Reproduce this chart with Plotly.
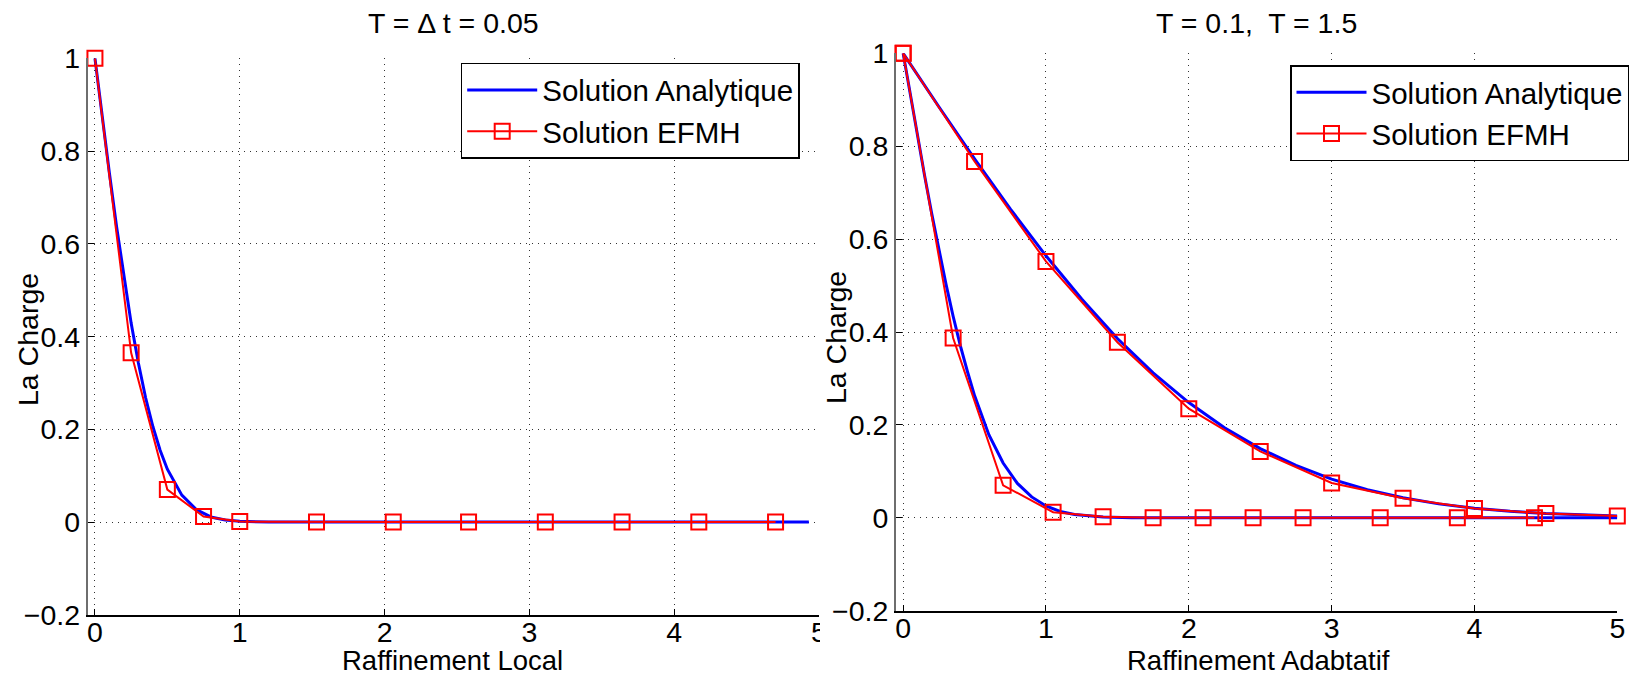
import plotly.graph_objects as go

# ---------------- data ----------------
# Left panel : T = Δt = 0.05, local refinement
left_x_analytic = [0, 0.05, 0.1, 0.15, 0.2, 0.25, 0.3, 0.35, 0.4, 0.45, 0.5, 0.6, 0.7, 0.8,
                   0.9, 1.0, 1.2, 1.5, 2.0, 3.0, 4.0, 4.93]
left_y_analytic = [1, 0.874, 0.752, 0.636, 0.527, 0.429, 0.343, 0.268, 0.206, 0.155, 0.114,
                   0.058, 0.027, 0.011, 0.0045, 0.0016, 0.0001, 0, 0, 0, 0, 0]
left_x_efmh = [0, 0.25, 0.5, 0.75, 1.0, 1.53, 2.06, 2.58, 3.11, 3.64, 4.17, 4.70]
left_y_efmh = [1, 0.365, 0.07, 0.012, 0.001, 0, 0, 0, 0, 0, 0, 0]

# Right panel : T = 0.1 (fast) and T = 1.5 (slow), adaptive refinement
fast_x_analytic = [0, 0.05, 0.1, 0.15, 0.2, 0.25, 0.3, 0.35, 0.4, 0.45, 0.5, 0.6, 0.7, 0.8,
                   0.9, 1.0, 1.1, 1.2, 1.4, 1.6, 2.0, 3.0, 4.0, 5.0]
fast_y_analytic = [1, 0.911, 0.823, 0.737, 0.655, 0.576, 0.503, 0.434, 0.371, 0.315, 0.263,
                   0.179, 0.118, 0.074, 0.045, 0.0254, 0.0136, 0.0069, 0.0017, 0.0003, 0, 0, 0, 0]
fast_x_efmh = [0, 0.35, 0.70, 1.05, 1.40, 1.75, 2.10, 2.45, 2.80, 3.34, 3.88, 4.42]
fast_y_efmh = [1, 0.387, 0.070, 0.012, 0.002, 0, 0, 0, 0, 0, 0, 0]

slow_x_analytic = [0, 0.25, 0.5, 0.75, 1.0, 1.25, 1.5, 1.75, 2.0, 2.25, 2.5, 2.75, 3.0, 3.25,
                   3.5, 3.75, 4.0, 4.25, 4.5, 4.75, 5.0]
slow_y_analytic = [1, 0.885, 0.773, 0.665, 0.564, 0.471, 0.386, 0.312, 0.248, 0.194, 0.149,
                   0.113, 0.0833, 0.0604, 0.043, 0.030, 0.0206, 0.0139, 0.0092, 0.006, 0.0039]
slow_x_efmh = [0, 0.5, 1.0, 1.5, 2.0, 2.5, 3.0, 3.5, 4.0, 4.5, 5.0]
slow_y_efmh = [1, 0.767, 0.552, 0.378, 0.235, 0.143, 0.075, 0.042, 0.020, 0.009, 0.004]

x_ticks = [0, 1, 2, 3, 4, 5]
x_tick_labels = ["0", "1", "2", "3", "4", "5"]
y_ticks = [-0.2, 0, 0.2, 0.4, 0.6, 0.8, 1.0]
y_tick_labels = ["\u22120.2", "0", "0.2", "0.4", "0.6", "0.8", "1"]

titles = ["T = \u0394 t = 0.05", "T = 0.1,  T = 1.5"]
x_titles = ["Raffinement Local", "Raffinement Adabtatif"]
y_title = "La Charge"
legend_names = ["Solution Analytique", "Solution EFMH"]

# ---------------- styling ----------------
W, H = 1633, 677
FONT = "Liberation Sans, Arial, Helvetica, sans-serif"
FS = 28.5
FS_XT = 27.5
FS_LEG = 29.5
BLUE = "#0000FF"
RED = "#FF0000"

def px_x(p):
    return p / W

def px_y(p):
    return 1 - p / H

fig = go.Figure()

def analytic(x, y, xa, ya, show, legend):
    fig.add_trace(go.Scatter(x=x, y=y, mode="lines", name=legend_names[0],
                             line=dict(color=BLUE, width=3), xaxis=xa, yaxis=ya,
                             showlegend=show, legend=legend, cliponaxis=False))

def efmh(x, y, xa, ya, show, legend):
    fig.add_trace(go.Scatter(x=x, y=y, mode="lines+markers", name=legend_names[1],
                             line=dict(color=RED, width=2),
                             marker=dict(symbol="square-open", size=15, color=RED,
                                         line=dict(color=RED, width=2)),
                             xaxis=xa, yaxis=ya, showlegend=show, legend=legend,
                             cliponaxis=False))

# left panel
analytic(left_x_analytic, left_y_analytic, "x", "y", True, "legend")
efmh(left_x_efmh, left_y_efmh, "x", "y", True, "legend")
# right panel
analytic(fast_x_analytic, fast_y_analytic, "x2", "y2", True, "legend2")
analytic(slow_x_analytic, slow_y_analytic, "x2", "y2", False, "legend2")
efmh(fast_x_efmh, fast_y_efmh, "x2", "y2", True, "legend2")
efmh(slow_x_efmh, slow_y_efmh, "x2", "y2", False, "legend2")

grid = dict(showgrid=True, gridcolor="#333333", gridwidth=1, griddash="1px,5px")
tickfont = dict(family=FONT, size=FS, color="black")

def xaxis(domain, anchor):
    return dict(domain=domain, anchor=anchor, range=[-0.05, 5], tickmode="array",
                tickvals=x_ticks, ticktext=x_tick_labels, ticks="inside", ticklen=6,
                tickcolor="black", showline=True, linecolor="black", linewidth=1.5,
                zeroline=False, tickfont=tickfont, automargin=False,
                ticklabelstandoff=-9, **grid)

def yaxis(domain, anchor):
    return dict(domain=domain, anchor=anchor, range=[-0.2, 1], tickmode="array",
                tickvals=y_ticks, ticktext=y_tick_labels, ticks="inside", ticklen=6,
                tickcolor="black", showline=True, linecolor="#6e6e6e", linewidth=2,
                zeroline=False, tickfont=tickfont, automargin=False, **grid)

L = dict(x0=87.7, x1=819, y0=58.3, y1=614.8)
R = dict(x0=896, x1=1617.3, y0=53.3, y1=610.7)

legend_style = dict(xanchor="left", yanchor="top", bgcolor="white", bordercolor="black",
                    borderwidth=1.5, font=dict(family=FONT, size=FS_LEG),
                    itemwidth=70, tracegroupgap=0)

fig.update_layout(
    width=W, height=H,
    margin=dict(l=0, r=0, t=0, b=0, pad=0, autoexpand=False),
    paper_bgcolor="white", plot_bgcolor="white",
    font=dict(family=FONT, size=FS, color="black"),
    xaxis=xaxis([px_x(L["x0"]), px_x(L["x1"])], "y"),
    yaxis=yaxis([px_y(L["y1"]), px_y(L["y0"])], "x"),
    xaxis2=xaxis([px_x(R["x0"]), px_x(R["x1"])], "y2"),
    yaxis2=yaxis([px_y(R["y1"]), px_y(R["y0"])], "x2"),
    legend=dict(x=px_x(460.7), y=px_y(62.7), **legend_style),
    legend2=dict(x=px_x(1290), y=px_y(65), **legend_style),
)

ann = []
for cx, t in zip([(L["x0"] + L["x1"]) / 2, (R["x0"] + R["x1"]) / 2], titles):
    ann.append(dict(text=t, x=px_x(cx), y=px_y(23), xref="paper", yref="paper",
                    xanchor="center", yanchor="middle", showarrow=False,
                    font=dict(family=FONT, size=FS, color="black")))
for cx, t in zip([452, 1258], x_titles):
    ann.append(dict(text=t, x=px_x(cx), y=px_y(660.5), xref="paper", yref="paper",
                    xanchor="center", yanchor="middle", showarrow=False,
                    font=dict(family=FONT, size=FS_XT, color="black")))
for cx, cy in [(28, 340), (836, 338)]:
    ann.append(dict(text=y_title, x=px_x(cx), y=px_y(cy), xref="paper", yref="paper",
                    xanchor="center", yanchor="middle", showarrow=False, textangle=-90,
                    font=dict(family=FONT, size=FS, color="black")))
fig.update_layout(annotations=ann)

# the right panel hides the right half of the left panel's last tick label
fig.add_shape(type="rect", xref="paper", yref="paper", layer="above",
              x0=px_x(820), x1=px_x(842), y0=px_y(652), y1=px_y(619),
              fillcolor="white", line=dict(width=0))

fig.write_html("out.html")
